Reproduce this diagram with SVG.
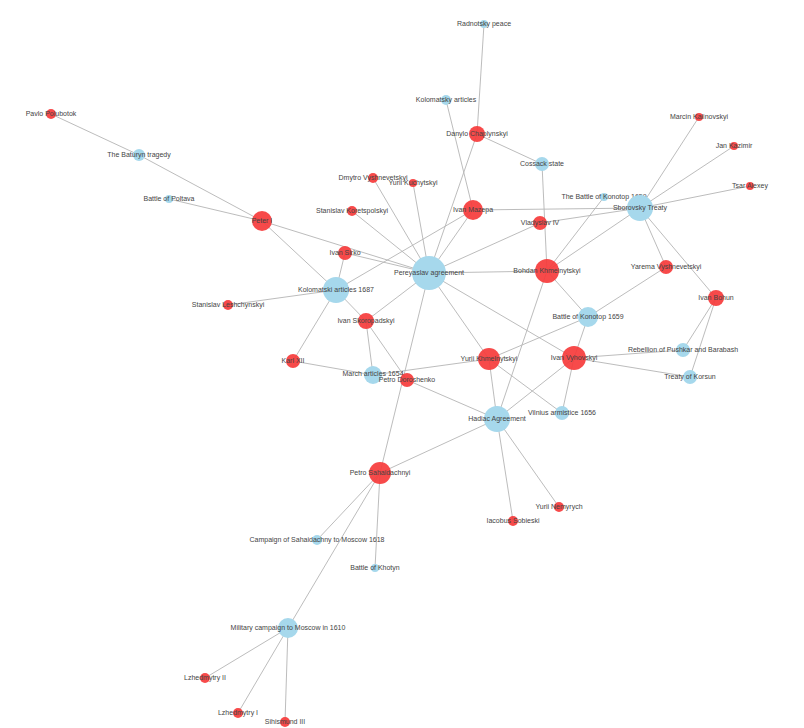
<svg xmlns="http://www.w3.org/2000/svg" width="804" height="728" viewBox="0 0 804 728">
<style>
.e{stroke:#b4b4b4;stroke-width:0.9;fill:none}
.r{fill:#f63b3b;fill-opacity:0.92}
.b{fill:#a6d8ec}
text{font-family:"Liberation Sans",Arial,sans-serif;font-size:7px;fill:#444;text-anchor:middle;dominant-baseline:middle}
</style>
<rect width="804" height="728" fill="#fff"/>
<g id="edges">
<line class="e" x1="484" y1="24" x2="477" y2="134"/>
<line class="e" x1="446" y1="100" x2="473" y2="210"/>
<line class="e" x1="477" y1="134" x2="542" y2="164"/>
<line class="e" x1="477" y1="134" x2="429" y2="273"/>
<line class="e" x1="542" y1="164" x2="547" y2="271"/>
<line class="e" x1="51" y1="114" x2="139" y2="155"/>
<line class="e" x1="139" y1="155" x2="262" y2="221"/>
<line class="e" x1="169" y1="199" x2="262" y2="221"/>
<line class="e" x1="262" y1="221" x2="429" y2="273"/>
<line class="e" x1="262" y1="221" x2="336" y2="290"/>
<line class="e" x1="373" y1="178" x2="429" y2="273"/>
<line class="e" x1="413" y1="183" x2="429" y2="273"/>
<line class="e" x1="352" y1="211" x2="429" y2="273"/>
<line class="e" x1="345" y1="253" x2="429" y2="273"/>
<line class="e" x1="345" y1="253" x2="336" y2="290"/>
<line class="e" x1="473" y1="210" x2="429" y2="273"/>
<line class="e" x1="473" y1="210" x2="640" y2="208"/>
<line class="e" x1="473" y1="210" x2="336" y2="290"/>
<line class="e" x1="540" y1="223" x2="429" y2="273"/>
<line class="e" x1="540" y1="223" x2="640" y2="208"/>
<line class="e" x1="604" y1="197" x2="547" y2="271"/>
<line class="e" x1="640" y1="208" x2="699" y2="117"/>
<line class="e" x1="640" y1="208" x2="734" y2="146"/>
<line class="e" x1="640" y1="208" x2="750" y2="186"/>
<line class="e" x1="640" y1="208" x2="547" y2="271"/>
<line class="e" x1="640" y1="208" x2="666" y2="267"/>
<line class="e" x1="640" y1="208" x2="716" y2="298"/>
<line class="e" x1="429" y1="273" x2="547" y2="271"/>
<line class="e" x1="429" y1="273" x2="489" y2="359"/>
<line class="e" x1="429" y1="273" x2="574" y2="358"/>
<line class="e" x1="429" y1="273" x2="380" y2="473"/>
<line class="e" x1="429" y1="273" x2="366" y2="321"/>
<line class="e" x1="547" y1="271" x2="588" y2="317"/>
<line class="e" x1="547" y1="271" x2="497" y2="419"/>
<line class="e" x1="666" y1="267" x2="588" y2="317"/>
<line class="e" x1="588" y1="317" x2="489" y2="359"/>
<line class="e" x1="588" y1="317" x2="574" y2="358"/>
<line class="e" x1="716" y1="298" x2="683" y2="350"/>
<line class="e" x1="716" y1="298" x2="690" y2="377"/>
<line class="e" x1="574" y1="358" x2="683" y2="350"/>
<line class="e" x1="574" y1="358" x2="690" y2="377"/>
<line class="e" x1="574" y1="358" x2="562" y2="413"/>
<line class="e" x1="574" y1="358" x2="497" y2="419"/>
<line class="e" x1="489" y1="359" x2="497" y2="419"/>
<line class="e" x1="489" y1="359" x2="562" y2="413"/>
<line class="e" x1="489" y1="359" x2="373" y2="375"/>
<line class="e" x1="407" y1="380" x2="497" y2="419"/>
<line class="e" x1="336" y1="290" x2="228" y2="305"/>
<line class="e" x1="336" y1="290" x2="293" y2="361"/>
<line class="e" x1="336" y1="290" x2="366" y2="321"/>
<line class="e" x1="293" y1="361" x2="373" y2="375"/>
<line class="e" x1="366" y1="321" x2="373" y2="375"/>
<line class="e" x1="366" y1="321" x2="407" y2="380"/>
<line class="e" x1="497" y1="419" x2="380" y2="473"/>
<line class="e" x1="497" y1="419" x2="559" y2="507"/>
<line class="e" x1="497" y1="419" x2="513" y2="521"/>
<line class="e" x1="380" y1="473" x2="317" y2="540"/>
<line class="e" x1="380" y1="473" x2="375" y2="568"/>
<line class="e" x1="380" y1="473" x2="288" y2="628"/>
<line class="e" x1="288" y1="628" x2="205" y2="678"/>
<line class="e" x1="288" y1="628" x2="238" y2="713"/>
<line class="e" x1="288" y1="628" x2="285" y2="722"/>
</g>
<g id="n1"><circle class="b" cx="484" cy="24" r="4"/><text x="484" y="24">Radnotsky peace</text></g>
<g id="n2"><circle class="b" cx="446" cy="100" r="5"/><text x="446" y="100">Kolomatsky articles</text></g>
<g id="n3"><circle class="r" cx="477" cy="134" r="8"/><text x="477" y="134">Danylo Chaplynskyi</text></g>
<g id="n4"><circle class="b" cx="542" cy="164" r="7"/><text x="542" y="164">Cossack state</text></g>
<g id="n5"><circle class="r" cx="51" cy="114" r="5"/><text x="51" y="114">Pavlo Polubotok</text></g>
<g id="n6"><circle class="b" cx="139" cy="155" r="6"/><text x="139" y="155">The Baturyn tragedy</text></g>
<g id="n7"><circle class="b" cx="169" cy="199" r="4"/><text x="169" y="199">Battle of Poltava</text></g>
<g id="n8"><circle class="r" cx="262" cy="221" r="10"/><text x="262" y="221">Peter I</text></g>
<g id="n9"><circle class="r" cx="373" cy="178" r="5"/><text x="373" y="178">Dmytro Vyshnevetskyi</text></g>
<g id="n10"><circle class="r" cx="413" cy="183" r="4"/><text x="413" y="183">Yurii Kuchytskyi</text></g>
<g id="n11"><circle class="r" cx="352" cy="211" r="5"/><text x="352" y="211">Stanislav Koretspolskyi</text></g>
<g id="n12"><circle class="r" cx="473" cy="210" r="10"/><text x="473" y="210">Ivan Mazepa</text></g>
<g id="n13"><circle class="r" cx="540" cy="223" r="7"/><text x="540" y="223">Vladyslav IV</text></g>
<g id="n14"><circle class="b" cx="604" cy="197" r="4"/><text x="604" y="197">The Battle of Konotop 1659</text></g>
<g id="n15"><circle class="b" cx="640" cy="208" r="13"/><text x="640" y="208">Sborovsky Treaty</text></g>
<g id="n16"><circle class="r" cx="699" cy="117" r="4"/><text x="699" y="117">Marcin Kalinovskyi</text></g>
<g id="n17"><circle class="r" cx="734" cy="146" r="4"/><text x="734" y="146">Jan Kazimir</text></g>
<g id="n18"><circle class="r" cx="750" cy="186" r="4"/><text x="750" y="186">Tsar Alexey</text></g>
<g id="n19"><circle class="r" cx="345" cy="253" r="7"/><text x="345" y="253">Ivan Sirko</text></g>
<g id="n20"><circle class="b" cx="429" cy="273" r="17"/><text x="429" y="273">Pereyaslav agreement</text></g>
<g id="n21"><circle class="r" cx="547" cy="271" r="12"/><text x="547" y="271">Bohdan Khmelnytskyi</text></g>
<g id="n22"><circle class="r" cx="666" cy="267" r="7"/><text x="666" y="267">Yarema Vyshnevetskyi</text></g>
<g id="n23"><circle class="b" cx="336" cy="290" r="13"/><text x="336" y="290">Kolomatski articles 1687</text></g>
<g id="n24"><circle class="r" cx="228" cy="305" r="5"/><text x="228" y="305">Stanislav Leshchynskyi</text></g>
<g id="n25"><circle class="r" cx="716" cy="298" r="8"/><text x="716" y="298">Ivan Bohun</text></g>
<g id="n26"><circle class="r" cx="366" cy="321" r="8"/><text x="366" y="321">Ivan Skoropadskyi</text></g>
<g id="n27"><circle class="b" cx="588" cy="317" r="10"/><text x="588" y="317">Battle of Konotop 1659</text></g>
<g id="n28"><circle class="r" cx="293" cy="361" r="7"/><text x="293" y="361">Karl XII</text></g>
<g id="n29"><circle class="r" cx="489" cy="359" r="11"/><text x="489" y="359">Yurii Khmelnytskyi</text></g>
<g id="n30"><circle class="r" cx="574" cy="358" r="12"/><text x="574" y="358">Ivan Vyhovskyi</text></g>
<g id="n31"><circle class="b" cx="683" cy="350" r="7"/><text x="683" y="350">Rebellion of Pushkar and Barabash</text></g>
<g id="n32"><circle class="b" cx="690" cy="377" r="7"/><text x="690" y="377">Treaty of Korsun</text></g>
<g id="n33"><circle class="b" cx="373" cy="375" r="9"/><text x="373" y="374">March articles 1654</text></g>
<g id="n34"><circle class="r" cx="407" cy="380" r="7"/><text x="407" y="380">Petro Doroshenko</text></g>
<g id="n35"><circle class="b" cx="562" cy="413" r="7"/><text x="562" y="413">Vilnius armistice 1656</text></g>
<g id="n36"><circle class="b" cx="497" cy="419" r="13"/><text x="497" y="419">Hadiac Agreement</text></g>
<g id="n37"><circle class="r" cx="380" cy="473" r="11"/><text x="380" y="473">Petro Sahaidachnyi</text></g>
<g id="n38"><circle class="r" cx="559" cy="507" r="5"/><text x="559" y="507">Yurii Nemyrych</text></g>
<g id="n39"><circle class="r" cx="513" cy="521" r="5"/><text x="513" y="521">Iacobus Sobieski</text></g>
<g id="n40"><circle class="b" cx="317" cy="540" r="5"/><text x="317" y="540">Campaign of Sahaidachny to Moscow 1618</text></g>
<g id="n41"><circle class="b" cx="375" cy="568" r="4"/><text x="375" y="568">Battle of Khotyn</text></g>
<g id="n42"><circle class="b" cx="288" cy="628" r="10"/><text x="288" y="628">Military campaign to Moscow in 1610</text></g>
<g id="n43"><circle class="r" cx="205" cy="678" r="5"/><text x="205" y="678">Lzhedmytry II</text></g>
<g id="n44"><circle class="r" cx="238" cy="713" r="5"/><text x="238" y="713">Lzhedmytry I</text></g>
<g id="n45"><circle class="r" cx="285" cy="722" r="5"/><text x="285" y="722">Sihismund III</text></g>
</svg>
